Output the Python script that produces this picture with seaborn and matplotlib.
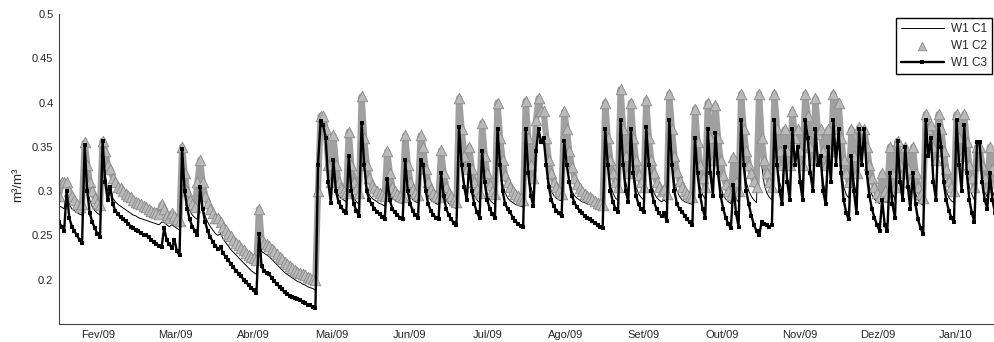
import numpy as np
import matplotlib
matplotlib.use("Agg")
import matplotlib.pyplot as plt
import seaborn as sns

# ================= data (daily values, 16 Jan 2009 -> 16 Jan 2010) =================
months = ['Fev/09', 'Mar/09', 'Abr/09', 'Mai/09', 'Jun/09', 'Jul/09',
          'Ago/09', 'Set/09', 'Out/09', 'Nov/09', 'Dez/09', 'Jan/10']
yticks = [0.2, 0.25, 0.3, 0.35, 0.4, 0.45, 0.5]
ytick_labels = ['0.2', '0.25', '0.3', '0.35', '0.4', '0.45', '0.5']

# W1 C1 - thin line
c1 = [
    0.283, 0.282, 0.280, 0.300, 0.285, 0.280, 0.278, 0.276, 0.274, 0.273,
    0.350, 0.310, 0.290, 0.282, 0.278, 0.275, 0.273, 0.355, 0.320, 0.300,
    0.305, 0.292, 0.288, 0.285, 0.283, 0.281, 0.279, 0.277, 0.275, 0.273,
    0.272, 0.270, 0.269, 0.268, 0.267, 0.266, 0.265, 0.264, 0.263, 0.262,
    0.265, 0.265, 0.262, 0.260, 0.262, 0.260, 0.258, 0.256, 0.345, 0.300,
    0.285, 0.278, 0.273, 0.270, 0.268, 0.300, 0.280, 0.272, 0.265, 0.260,
    0.256, 0.252, 0.250, 0.252, 0.246, 0.242, 0.238, 0.234, 0.231, 0.228,
    0.225, 0.222, 0.219, 0.216, 0.213, 0.210, 0.208, 0.206, 0.250, 0.232,
    0.230, 0.228, 0.226, 0.223, 0.220, 0.217, 0.214, 0.211, 0.208, 0.206,
    0.204, 0.202, 0.200, 0.198, 0.197, 0.195, 0.194, 0.192, 0.191, 0.190,
    0.188, 0.300, 0.380, 0.375, 0.350, 0.310, 0.298, 0.335, 0.305, 0.295,
    0.292, 0.290, 0.288, 0.340, 0.305, 0.293, 0.288, 0.285, 0.375, 0.330,
    0.305, 0.296, 0.292, 0.290, 0.288, 0.286, 0.285, 0.283, 0.315, 0.298,
    0.292, 0.290, 0.288, 0.287, 0.286, 0.335, 0.305, 0.295, 0.290, 0.288,
    0.287, 0.335, 0.330, 0.305, 0.295, 0.290, 0.288, 0.286, 0.285, 0.320,
    0.300, 0.290, 0.286, 0.284, 0.282, 0.280, 0.370, 0.330, 0.310, 0.298,
    0.330, 0.305, 0.295, 0.290, 0.287, 0.345, 0.310, 0.297, 0.290, 0.287,
    0.285, 0.370, 0.330, 0.308, 0.298, 0.292, 0.289, 0.287, 0.285, 0.284,
    0.283, 0.282, 0.370, 0.325, 0.305, 0.295, 0.345, 0.370, 0.355, 0.360,
    0.330, 0.310, 0.300, 0.295, 0.292, 0.290, 0.289, 0.357, 0.330, 0.312,
    0.300, 0.295, 0.292, 0.290, 0.288, 0.287, 0.286, 0.285, 0.284, 0.283,
    0.283, 0.282, 0.282, 0.370, 0.330, 0.308, 0.298, 0.292, 0.290, 0.400,
    0.335, 0.310, 0.298, 0.370, 0.325, 0.305, 0.297, 0.293, 0.290, 0.372,
    0.330, 0.308, 0.298, 0.293, 0.290, 0.288, 0.290, 0.287, 0.380, 0.335,
    0.310, 0.300, 0.294, 0.290, 0.288, 0.287, 0.286, 0.285, 0.360, 0.325,
    0.305, 0.296, 0.291, 0.370, 0.325, 0.305, 0.366, 0.325, 0.305, 0.296,
    0.291, 0.288, 0.286, 0.307, 0.292, 0.287, 0.380, 0.335, 0.310, 0.300,
    0.294, 0.290, 0.287, 0.400, 0.330, 0.308, 0.298, 0.293, 0.290, 0.380,
    0.335, 0.310, 0.300, 0.350, 0.315, 0.300, 0.370, 0.330, 0.350, 0.315,
    0.300, 0.380, 0.360, 0.325, 0.305, 0.370, 0.335, 0.340, 0.310, 0.298,
    0.350, 0.315, 0.380, 0.335, 0.370, 0.325, 0.305, 0.296, 0.292, 0.340,
    0.310, 0.297, 0.370, 0.335, 0.370, 0.325, 0.305, 0.296, 0.291, 0.288,
    0.286, 0.300, 0.290, 0.287, 0.320, 0.298, 0.290, 0.357, 0.315, 0.300,
    0.350, 0.310, 0.296, 0.320, 0.298, 0.290, 0.286, 0.284, 0.380, 0.340,
    0.360, 0.315, 0.300, 0.375, 0.350, 0.315, 0.300, 0.293, 0.289, 0.287,
    0.380, 0.335, 0.310, 0.375, 0.325, 0.305, 0.296, 0.290, 0.355, 0.355,
    0.315, 0.300, 0.293, 0.320, 0.300, 0.292,
]

# W1 C2 - grey triangles
c2 = [
    0.295, 0.310, 0.310, 0.310, 0.300, 0.295, 0.290, 0.285, 0.282, 0.285,
    0.355, 0.330, 0.310, 0.300, 0.292, 0.287, 0.284, 0.357, 0.345, 0.330,
    0.325, 0.315, 0.310, 0.305, 0.303, 0.300, 0.297, 0.295, 0.293, 0.290,
    0.288, 0.287, 0.285, 0.283, 0.282, 0.280, 0.278, 0.276, 0.275, 0.274,
    0.285, 0.280, 0.273, 0.270, 0.275, 0.272, 0.268, 0.266, 0.350, 0.320,
    0.300, 0.290, 0.285, 0.282, 0.310, 0.335, 0.310, 0.295, 0.287, 0.280,
    0.275, 0.270, 0.270, 0.265, 0.260, 0.256, 0.252, 0.249, 0.245, 0.242,
    0.239, 0.236, 0.233, 0.230, 0.228, 0.226, 0.224, 0.222, 0.280, 0.245,
    0.242, 0.240, 0.238, 0.235, 0.232, 0.229, 0.226, 0.223, 0.220, 0.218,
    0.215, 0.213, 0.211, 0.209, 0.208, 0.206, 0.205, 0.203, 0.202, 0.201,
    0.200, 0.300, 0.385, 0.385, 0.370, 0.330, 0.310, 0.363, 0.330, 0.310,
    0.303, 0.300, 0.298, 0.367, 0.330, 0.310, 0.302, 0.298, 0.407, 0.360,
    0.330, 0.315, 0.307, 0.303, 0.300, 0.298, 0.296, 0.295, 0.345, 0.320,
    0.305, 0.300, 0.297, 0.295, 0.293, 0.363, 0.330, 0.310, 0.302, 0.298,
    0.296, 0.363, 0.350, 0.325, 0.310, 0.302, 0.298, 0.295, 0.293, 0.346,
    0.320, 0.305, 0.298, 0.294, 0.290, 0.288, 0.405, 0.370, 0.340, 0.325,
    0.350, 0.325, 0.310, 0.302, 0.298, 0.377, 0.340, 0.320, 0.307, 0.300,
    0.297, 0.400, 0.360, 0.335, 0.318, 0.310, 0.305, 0.300, 0.297, 0.294,
    0.292, 0.290, 0.402, 0.360, 0.330, 0.315, 0.380, 0.405, 0.390, 0.390,
    0.360, 0.335, 0.320, 0.310, 0.305, 0.300, 0.297, 0.390, 0.370, 0.345,
    0.327, 0.315, 0.308, 0.303, 0.300, 0.297, 0.295, 0.293, 0.291, 0.289,
    0.287, 0.285, 0.284, 0.400, 0.360, 0.335, 0.320, 0.310, 0.305, 0.415,
    0.370, 0.340, 0.320, 0.400, 0.360, 0.335, 0.318, 0.310, 0.305, 0.403,
    0.360, 0.335, 0.320, 0.310, 0.305, 0.300, 0.302, 0.297, 0.410, 0.370,
    0.340, 0.322, 0.312, 0.305, 0.300, 0.297, 0.295, 0.293, 0.393, 0.355,
    0.330, 0.315, 0.305, 0.400, 0.360, 0.335, 0.397, 0.360, 0.335, 0.318,
    0.308, 0.300, 0.296, 0.338, 0.310, 0.300, 0.410, 0.370, 0.345, 0.330,
    0.320, 0.312, 0.305, 0.410, 0.360, 0.335, 0.320, 0.310, 0.305, 0.410,
    0.370, 0.345, 0.330, 0.370, 0.345, 0.330, 0.390, 0.360, 0.370, 0.345,
    0.330, 0.410, 0.385, 0.350, 0.335, 0.405, 0.365, 0.370, 0.345, 0.330,
    0.370, 0.345, 0.410, 0.370, 0.400, 0.360, 0.335, 0.320, 0.310, 0.370,
    0.340, 0.320, 0.372, 0.355, 0.370, 0.350, 0.330, 0.315, 0.305, 0.298,
    0.293, 0.320, 0.300, 0.295, 0.350, 0.320, 0.305, 0.357, 0.330, 0.320,
    0.350, 0.325, 0.310, 0.350, 0.320, 0.305, 0.297, 0.292, 0.387, 0.370,
    0.375, 0.350, 0.335, 0.387, 0.370, 0.345, 0.325, 0.312, 0.305, 0.300,
    0.387, 0.360, 0.340, 0.387, 0.355, 0.330, 0.315, 0.305, 0.350, 0.350,
    0.330, 0.315, 0.305, 0.350, 0.325, 0.310,
]

# W1 C3 - black line with small squares
c3 = [
    0.265, 0.260, 0.255, 0.300, 0.270, 0.260, 0.255, 0.250, 0.245, 0.242,
    0.352, 0.300, 0.275, 0.265, 0.258, 0.252, 0.248, 0.357, 0.310, 0.290,
    0.305, 0.285, 0.278, 0.274, 0.271, 0.268, 0.266, 0.263, 0.260, 0.258,
    0.256, 0.255, 0.253, 0.250, 0.250, 0.248, 0.245, 0.243, 0.240, 0.238,
    0.237, 0.258, 0.245, 0.240, 0.236, 0.245, 0.232, 0.228, 0.348, 0.300,
    0.280, 0.268, 0.260, 0.255, 0.250, 0.305, 0.280, 0.265, 0.255, 0.248,
    0.243, 0.238, 0.235, 0.237, 0.230, 0.226, 0.222, 0.218, 0.214, 0.210,
    0.207, 0.204, 0.200, 0.197, 0.194, 0.191, 0.188, 0.185, 0.252, 0.215,
    0.210, 0.208, 0.206, 0.202, 0.198, 0.195, 0.192, 0.189, 0.186, 0.184,
    0.182, 0.180, 0.179, 0.178, 0.177, 0.175, 0.174, 0.172, 0.171, 0.169,
    0.168, 0.330, 0.379, 0.375, 0.360, 0.310, 0.287, 0.335, 0.300, 0.288,
    0.282, 0.278, 0.275, 0.340, 0.300, 0.285, 0.278, 0.272, 0.377, 0.330,
    0.300, 0.290, 0.285, 0.280, 0.277, 0.274, 0.271, 0.268, 0.314, 0.290,
    0.280, 0.276, 0.273, 0.270, 0.268, 0.335, 0.300, 0.285, 0.278, 0.273,
    0.270, 0.335, 0.330, 0.300, 0.285, 0.278, 0.273, 0.270, 0.268, 0.320,
    0.295, 0.280, 0.273, 0.268, 0.264, 0.262, 0.372, 0.330, 0.305, 0.290,
    0.330, 0.300, 0.285, 0.276, 0.270, 0.345, 0.310, 0.290, 0.280, 0.274,
    0.270, 0.370, 0.330, 0.300, 0.285, 0.280, 0.276, 0.270, 0.266, 0.263,
    0.261, 0.260, 0.370, 0.320, 0.295, 0.283, 0.345, 0.370, 0.355, 0.360,
    0.330, 0.305, 0.290, 0.283, 0.278, 0.275, 0.272, 0.357, 0.330, 0.310,
    0.295, 0.287, 0.282, 0.278, 0.275, 0.272, 0.270, 0.268, 0.266, 0.264,
    0.262, 0.260, 0.258, 0.370, 0.330, 0.300, 0.288, 0.280, 0.276, 0.380,
    0.330, 0.300, 0.288, 0.370, 0.320, 0.295, 0.285, 0.280, 0.276, 0.372,
    0.330, 0.300, 0.288, 0.280, 0.275, 0.272, 0.275, 0.266, 0.380, 0.330,
    0.300, 0.285, 0.280, 0.277, 0.272, 0.268, 0.265, 0.262, 0.360, 0.320,
    0.295, 0.280, 0.270, 0.370, 0.320, 0.295, 0.366, 0.320, 0.295, 0.280,
    0.270, 0.263, 0.258, 0.307, 0.275, 0.260, 0.380, 0.330, 0.300, 0.285,
    0.272, 0.262, 0.255, 0.250, 0.265, 0.263, 0.262, 0.260, 0.262, 0.380,
    0.330, 0.300, 0.285, 0.350, 0.310, 0.290, 0.370, 0.330, 0.350, 0.310,
    0.290, 0.380, 0.360, 0.320, 0.300, 0.370, 0.330, 0.340, 0.300, 0.285,
    0.350, 0.310, 0.380, 0.330, 0.370, 0.320, 0.290, 0.275, 0.268, 0.340,
    0.300, 0.275, 0.370, 0.330, 0.370, 0.320, 0.295, 0.280, 0.270, 0.262,
    0.255, 0.290, 0.262, 0.255, 0.320, 0.285, 0.270, 0.357, 0.310, 0.290,
    0.350, 0.305, 0.280, 0.320, 0.285, 0.268, 0.258, 0.252, 0.380, 0.340,
    0.360, 0.310, 0.290, 0.375, 0.350, 0.310, 0.290, 0.278, 0.270, 0.265,
    0.380, 0.330, 0.300, 0.375, 0.320, 0.290, 0.275, 0.265, 0.355, 0.355,
    0.310, 0.290, 0.280, 0.320, 0.290, 0.275,
]

days = np.arange(len(c3))

# ================= style =================
sns.set_style('white')
plt.rcParams['font.family'] = ['Liberation Sans', 'DejaVu Sans']
plt.rcParams['axes.unicode_minus'] = False

fig = plt.figure(figsize=(9.95, 3.42), dpi=100)
ax = fig.add_axes([59 / 995, 18 / 342, 936 / 995, 310 / 342])

# ================= plot =================
sns.lineplot(x=days, y=c1, ax=ax, color='black', lw=0.7, label='W1 C1', zorder=2)
# grey fill-in under the triangles so the steep rises read as solid columns
sns.lineplot(x=days, y=c2, ax=ax, color='#a0a0a0', lw=4.5, legend=False, zorder=2.1)
sns.scatterplot(x=days, y=c2, ax=ax, marker='^', s=58, color='#bababa',
                edgecolor='#8a8a8a', linewidth=0.6, label='W1 C2', zorder=2.2)
sns.lineplot(x=days, y=c3, ax=ax, color='black', lw=1.7, marker='s',
             markersize=2.8, markeredgewidth=0, label='W1 C3', zorder=2.5)

# ================= axes =================
ax.set_xlim(0, 365)
ax.set_ylim(0.15, 0.5)
ax.set_xticks([15.1 + 30.42 * i for i in range(len(months))])
ax.set_xticklabels(months)
ax.set_yticks(yticks)
ax.set_yticklabels(ytick_labels)
ax.set_xlabel('')
ax.set_ylabel('m³/m³', fontsize=9.5)
ax.yaxis.set_label_coords(-0.037, 0.448)

for side in ['top', 'right']:
    ax.spines[side].set_visible(False)
for side in ['left', 'bottom']:
    ax.spines[side].set_color('#404040')
    ax.spines[side].set_linewidth(0.8)
ax.tick_params(axis='x', direction='in', length=6, width=0.8, color='#404040',
               labelsize=8, pad=4)
ax.tick_params(axis='y', direction='in', length=7, width=0.8, color='#404040',
               labelsize=8, pad=4)

handles, labels = ax.get_legend_handles_labels()
order = [labels.index(name) for name in ['W1 C1', 'W1 C2', 'W1 C3']]
leg = ax.legend([handles[i] for i in order], [labels[i] for i in order],
                loc='upper right', bbox_to_anchor=(0.997, 0.987), borderaxespad=0,
                fontsize=8.5, frameon=True, fancybox=False, framealpha=1,
                edgecolor='black', handlelength=3.6, labelspacing=0.4,
                borderpad=0.45, handletextpad=0.6, markerscale=0.8)
leg.get_frame().set_linewidth(1.0)

fig.savefig('out.png', dpi=100)
